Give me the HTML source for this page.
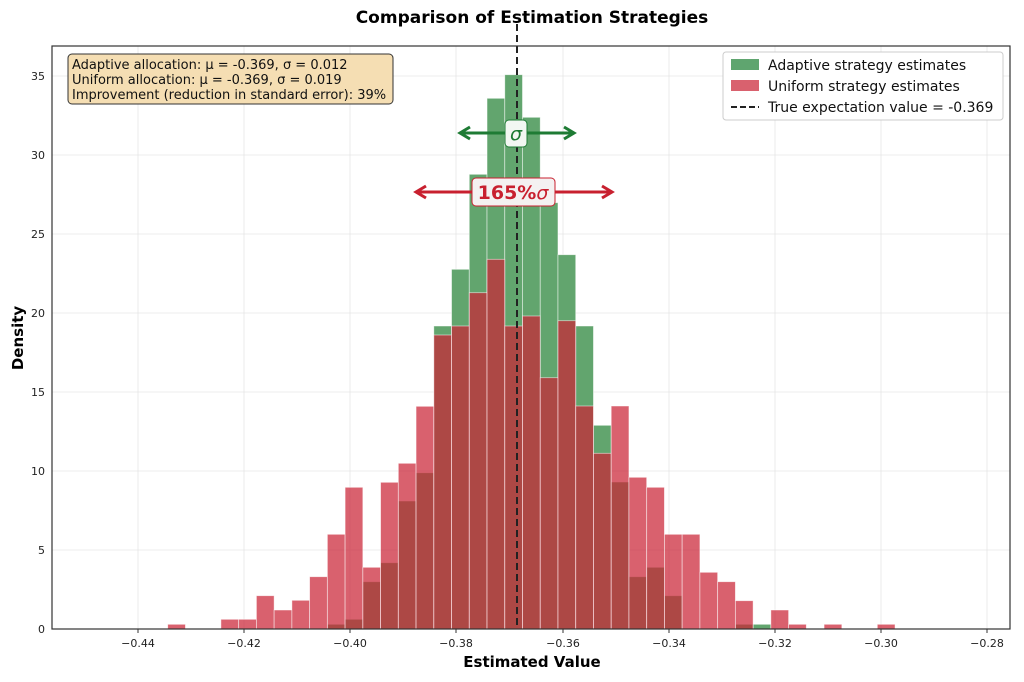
<!DOCTYPE html><html><head><meta charset="utf-8"><style>body{margin:0;background:#fff}svg{display:block;font-family:"DejaVu Sans","Liberation Sans",sans-serif}</style></head><body>
<svg width="1024" height="682" viewBox="0 0 1024 682" xmlns="http://www.w3.org/2000/svg">
<rect width="1024" height="682" fill="#fff"/>
<text x="532" y="23" text-anchor="middle" font-size="17" font-weight="bold">Comparison of Estimation Strategies</text>
<g stroke="#e6e6e6" stroke-width="0.8">
<line x1="138" y1="46" x2="138" y2="629"/><line x1="244" y1="46" x2="244" y2="629"/><line x1="350" y1="46" x2="350" y2="629"/><line x1="456" y1="46" x2="456" y2="629"/><line x1="563" y1="46" x2="563" y2="629"/><line x1="669" y1="46" x2="669" y2="629"/><line x1="775" y1="46" x2="775" y2="629"/><line x1="881" y1="46" x2="881" y2="629"/><line x1="987" y1="46" x2="987" y2="629"/>
<line x1="52" y1="550" x2="1010" y2="550"/><line x1="52" y1="471" x2="1010" y2="471"/><line x1="52" y1="392" x2="1010" y2="392"/><line x1="52" y1="313" x2="1010" y2="313"/><line x1="52" y1="234" x2="1010" y2="234"/><line x1="52" y1="155" x2="1010" y2="155"/><line x1="52" y1="76" x2="1010" y2="76"/>
</g>
<g id="bars"></g>
<line x1="517" y1="24" x2="517" y2="629" stroke="#222" stroke-width="2" stroke-dasharray="7,4"/>
<rect x="52" y="46" width="958" height="583" fill="none" stroke="#333" stroke-width="1.2"/>
<g stroke="#333" stroke-width="1"><line x1="138" y1="629" x2="138" y2="633"/><line x1="244" y1="629" x2="244" y2="633"/><line x1="350" y1="629" x2="350" y2="633"/><line x1="456" y1="629" x2="456" y2="633"/><line x1="563" y1="629" x2="563" y2="633"/><line x1="669" y1="629" x2="669" y2="633"/><line x1="775" y1="629" x2="775" y2="633"/><line x1="881" y1="629" x2="881" y2="633"/><line x1="987" y1="629" x2="987" y2="633"/></g>
<g font-size="11" fill="#222" text-anchor="end">
<text x="45" y="633">0</text><text x="45" y="554">5</text><text x="45" y="475">10</text><text x="45" y="396">15</text><text x="45" y="317">20</text><text x="45" y="238">25</text><text x="45" y="159">30</text><text x="45" y="80">35</text></g>
<g font-size="11" fill="#222" text-anchor="middle">
<text x="138" y="647">−0.44</text><text x="244" y="647">−0.42</text><text x="350" y="647">−0.40</text><text x="456" y="647">−0.38</text><text x="563" y="647">−0.36</text><text x="669" y="647">−0.34</text><text x="775" y="647">−0.32</text><text x="881" y="647">−0.30</text><text x="987" y="647">−0.28</text></g>
<text x="532" y="667" text-anchor="middle" font-size="15" font-weight="bold">Estimated Value</text>
<text transform="translate(23,338) rotate(-90)" text-anchor="middle" font-size="15" font-weight="bold">Density</text>
<rect x="68" y="54" width="325" height="50" rx="4" fill="#f5deb3" stroke="#333" stroke-width="1"/>
<g font-size="13" fill="#111"><text x="72" y="69">Adaptive allocation: μ = -0.369, σ = 0.012</text><text x="72" y="84">Uniform allocation: μ = -0.369, σ = 0.019</text><text x="72" y="99">Improvement (reduction in standard error): 39%</text></g>
<rect x="723" y="52" width="280" height="68" rx="3" fill="#fff" stroke="#ccc"/>
<rect x="731" y="59" width="28" height="11" fill="#5fa56f"/>
<rect x="731" y="80" width="28" height="11" fill="#d9616e"/>
<line x1="731" y1="107" x2="759" y2="107" stroke="#222" stroke-width="2" stroke-dasharray="6,3"/>
<g font-size="14" fill="#111"><text x="768" y="70">Adaptive strategy estimates</text><text x="768" y="91">Uniform strategy estimates</text><text x="768" y="112">True expectation value = -0.369</text></g>
<g stroke="#1e7b34" stroke-width="3" fill="none"><line x1="462" y1="133" x2="572" y2="133"/><polyline points="470,127 460,133 470,139"/><polyline points="564,127 574,133 564,139"/></g>
<rect x="505" y="120" width="22" height="27" rx="4" fill="#f2f7f2" stroke="#1e7b34" stroke-width="1"/>
<text x="516" y="140" text-anchor="middle" font-size="19" font-style="italic" fill="#1e7b34">σ</text>
<g stroke="#c8202f" stroke-width="3" fill="none"><line x1="418" y1="192" x2="610" y2="192"/><polyline points="426,186 416,192 426,198"/><polyline points="602,186 612,192 602,198"/></g>
<rect x="472" y="178" width="83" height="28" rx="4" fill="#f4f1f1" stroke="#c8202f" stroke-width="1"/>
<text x="513" y="199" text-anchor="middle" font-size="19" font-weight="bold" fill="#c8202f">165%<tspan font-style="italic" font-weight="normal">σ</tspan></text>
</svg>
<script>
var x0=167.7,w=17.74,base=629;
var G={9:624.3,10:619.3,11:581.7,12:562.7,13:501,14:472.7,15:326,16:269.3,17:174.3,18:98.3,19:74.7,20:117.3,21:202.7,22:254.7,23:326,24:425.3,25:482,26:576.7,27:567.3,28:595.7,32:624.3,33:624.3};
var R={0:624.3,3:619.3,4:619.3,5:595.7,6:610,7:600.3,8:576.7,9:534.3,10:487.3,11:567.3,12:482.3,13:463.3,14:406.3,15:335,16:326,17:292.7,18:259.3,19:326,20:316,21:377.7,22:320.7,23:406,24:453.3,25:406,26:477.3,27:487.3,28:534.3,29:534.3,30:572.3,31:581.7,32:600.7,34:610,35:624.3,37:624.3,40:624.3};
var s='';
for(var k in G){var x=x0+k*w;s+='<rect x="'+x+'" y="'+G[k]+'" width="'+w+'" height="'+(base-G[k])+'" fill="#62a56e" stroke="#fff" stroke-opacity="0.6" stroke-width="0.8"/>';}
for(var k in R){var x=x0+k*w;s+='<rect x="'+x+'" y="'+R[k]+'" width="'+w+'" height="'+(base-R[k])+'" fill="rgb(202,36,54)" fill-opacity="0.72" stroke="#fff" stroke-opacity="0.6" stroke-width="0.8"/>';}
document.getElementById('bars').innerHTML=s;
</script>
</body></html>
